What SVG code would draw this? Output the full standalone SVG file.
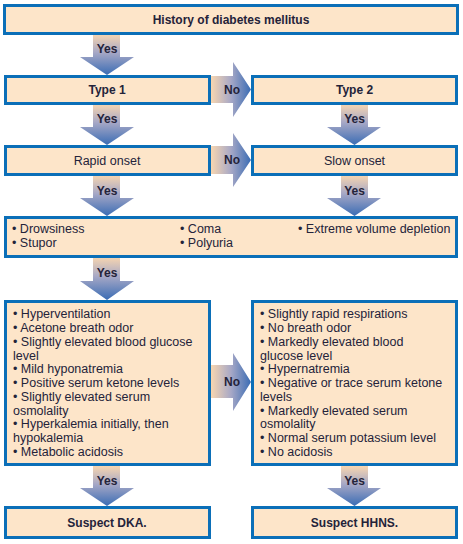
<svg xmlns="http://www.w3.org/2000/svg" width="463" height="544" viewBox="0 0 463 544">
<defs>
<linearGradient id="gv" x1="0" y1="0" x2="0" y2="1">
<stop offset="0" stop-color="#f8d6b0"/>
<stop offset="0.45" stop-color="#a7a8c6"/>
<stop offset="1" stop-color="#3a6cb4"/>
</linearGradient>
<linearGradient id="gh" x1="0" y1="0" x2="1" y2="0">
<stop offset="0" stop-color="#f8d6b0"/>
<stop offset="0.5" stop-color="#a7a8c6"/>
<stop offset="1" stop-color="#3a6cb4"/>
</linearGradient>
<style>
.box{fill:#fde5c9;stroke:#0b6fb8;stroke-width:3}
.av{fill:url(#gv)}
.ah{fill:url(#gh)}
text{font-family:"Liberation Sans",Arial,sans-serif;fill:#24233a;font-size:12.5px}
.b{font-weight:bold;text-anchor:middle;font-size:12px}
.c{text-anchor:middle}
</style>
</defs>
<g id="connectors">
<path class="av" d="M93,34 H120 V57 H134 L107,75 L80,57 H93 Z"/>
<text class="b" x="107" y="53">Yes</text>
<path class="av" d="M93,104 H120 V127 H134 L107,145 L80,127 H93 Z"/>
<text class="b" x="107" y="123">Yes</text>
<path class="av" d="M341,104 H368 V127 H381 L354.5,145 L327,127 H341 Z"/>
<text class="b" x="354.5" y="123">Yes</text>
<path class="av" d="M93,175 H120 V198 H134 L107,216 L80,198 H93 Z"/>
<text class="b" x="107" y="195">Yes</text>
<path class="av" d="M341,175 H368 V198 H381 L354.5,216 L327,198 H341 Z"/>
<text class="b" x="354.5" y="195">Yes</text>
<path class="av" d="M93,257 H120 V281 H134 L107,300 L80,281 H93 Z"/>
<text class="b" x="107" y="277">Yes</text>
<path class="av" d="M93,466 H120 V488 H134 L107,506 L80,488 H93 Z"/>
<text class="b" x="107" y="485">Yes</text>
<path class="av" d="M341,466 H368 V488 H381 L354.5,506 L327,488 H341 Z"/>
<text class="b" x="354.5" y="485">Yes</text>
<path class="ah" d="M211,76 H233 V62 L251,89.5 L233,117 V103 H211 Z"/>
<text class="b" x="232" y="94">No</text>
<path class="ah" d="M211,146 H233 V133 L251,160 L233,187 V174 H211 Z"/>
<text class="b" x="232" y="164">No</text>
<path class="ah" d="M211,365 H233 V353 L251,382 L233,411 V398 H211 Z"/>
<text class="b" x="232" y="386">No</text>
</g>
<g id="n-history">
<rect class="box" x="4.5" y="5.5" width="453" height="28"/>
<text class="b" x="231" y="24">History of diabetes mellitus</text>
</g>
<g id="n-type1">
<rect class="box" x="5.5" y="76.5" width="204" height="27"/>
<text class="b" x="107" y="94">Type 1</text>
</g>
<g id="n-type2">
<rect class="box" x="252.5" y="76.5" width="204" height="27"/>
<text class="b" x="354.5" y="94">Type 2</text>
</g>
<g id="n-rapid">
<rect class="box" x="5.5" y="146.5" width="204" height="28"/>
<text class="c" x="107" y="165">Rapid onset</text>
</g>
<g id="n-slow">
<rect class="box" x="252.5" y="146.5" width="204" height="28"/>
<text class="c" x="354.5" y="165">Slow onset</text>
</g>
<g id="n-symptoms">
<rect class="box" x="5.5" y="217.5" width="451" height="39"/>
<text x="12" y="233">• Drowsiness</text>
<text x="12" y="247">• Stupor</text>
<text x="180" y="233">• Coma</text>
<text x="180" y="247">• Polyuria</text>
<text x="298" y="233">• Extreme volume depletion</text>
</g>
<g id="n-dka-signs">
<rect class="box" x="5.5" y="301.5" width="204" height="163"/>
<text x="13" y="318">• Hyperventilation</text>
<text x="13" y="332">• Acetone breath odor</text>
<text x="13" y="346">• Slightly elevated blood glucose</text>
<text x="13" y="359.5">level</text>
<text x="13" y="373">• Mild hyponatremia</text>
<text x="13" y="387">• Positive serum ketone levels</text>
<text x="13" y="401">• Slightly elevated serum</text>
<text x="13" y="414.5">osmolality</text>
<text x="13" y="428">• Hyperkalemia initially, then</text>
<text x="13" y="442">hypokalemia</text>
<text x="13" y="456">• Metabolic acidosis</text>
</g>
<g id="n-hhns-signs">
<rect class="box" x="252.5" y="301.5" width="204" height="163"/>
<text x="260" y="318">• Slightly rapid respirations</text>
<text x="260" y="332">• No breath odor</text>
<text x="260" y="346">• Markedly elevated blood</text>
<text x="260" y="359.5">glucose level</text>
<text x="260" y="373">• Hypernatremia</text>
<text x="260" y="387">• Negative or trace serum ketone</text>
<text x="260" y="401">levels</text>
<text x="260" y="414.5">• Markedly elevated serum</text>
<text x="260" y="428">osmolality</text>
<text x="260" y="442">• Normal serum potassium level</text>
<text x="260" y="456">• No acidosis</text>
</g>
<g id="n-dka">
<rect class="box" x="5.5" y="507.5" width="204" height="30"/>
<text class="b" x="107" y="527">Suspect DKA.</text>
</g>
<g id="n-hhns">
<rect class="box" x="252.5" y="507.5" width="204" height="30"/>
<text class="b" x="354.5" y="527">Suspect HHNS.</text>
</g>
</svg>
